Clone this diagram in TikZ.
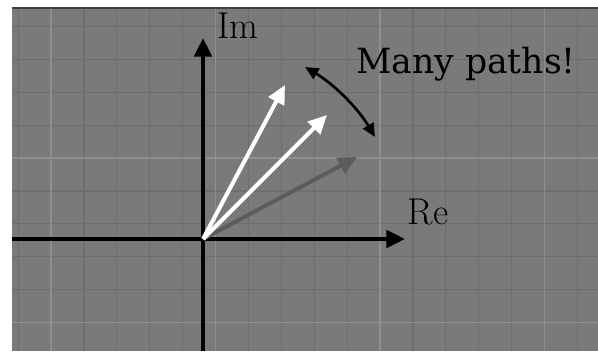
\documentclass[tikz,border=0pt]{standalone}
\usepackage{fontspec}
\newfontfamily\slabfont{DejaVu Serif}
\usetikzlibrary{arrows.meta}
\definecolor{boardgray}{gray}{0.48}
\definecolor{minorline}{gray}{0.43}
\definecolor{majorline}{gray}{0.56}
\definecolor{fadedarrow}{gray}{0.36}
\begin{document}
\begin{tikzpicture}[x=0.75pt, y=0.75pt,
  axis/.style={line width=3pt,black,-{Triangle[length=14pt,width=13pt]}},
  vec/.style={line width=3pt,white,-{Triangle[length=14pt,width=13pt]}},
  lbl/.style={font=\fontsize{28}{28}\selectfont,inner sep=0pt}]
\useasboundingbox (0,0) rectangle (598,351);
\fill[white] (0,0) rectangle (598,351);
\fill[boardgray] (12,0) rectangle (598,343);
\draw[line width=1.5pt,black!75] (12,343) -- (598,343);
\foreach \k in {-1,...,16} \draw[minorline,line width=0.9pt] ({51+32.9*\k},0) -- ({51+32.9*\k},342);
\foreach \k in {-4,...,5} \draw[minorline,line width=0.9pt] (12,{193-32.9*\k}) -- (598,{193-32.9*\k});
\foreach \k in {0,...,3} \draw[majorline,line width=0.9pt] ({51+164.5*\k},0) -- ({51+164.5*\k},342);
\foreach \k in {0,1} \draw[majorline,line width=0.9pt] (12,{193-164.5*\k}) -- (598,{193-164.5*\k});
\coordinate (o) at (203,112);
\coordinate (left) at (12,112);
\coordinate (bottom) at (203,0);
\coordinate (reend) at (405,112);
\coordinate (imend) at (203,313);
\coordinate (tipa) at (285,266);
\coordinate (tipb) at (327,236);
\coordinate (tipc) at (357,194);
\draw[axis] (left) -- (reend);
\draw[axis] (bottom) -- (imend);
\node[lbl] (im) at (238,325) {Im};
\node[lbl] (re) at (428,139) {Re};
\draw[vec,fadedarrow] (o) -- (tipc);
\draw[vec] (o) -- (tipb);
\draw[vec] (o) -- (tipa);
\draw[line width=2pt,black,{Triangle[length=10pt,width=9pt]}-{Triangle[length=10pt,width=9pt]}]
  ([shift={(59.3:200)}]o) arc[start angle=59.3,end angle=30.7,radius=200];
\node[font=\slabfont\fontsize{26}{26}\selectfont,inner sep=0pt] (many) at (466,287) {Many paths!};
\end{tikzpicture}
\end{document}
